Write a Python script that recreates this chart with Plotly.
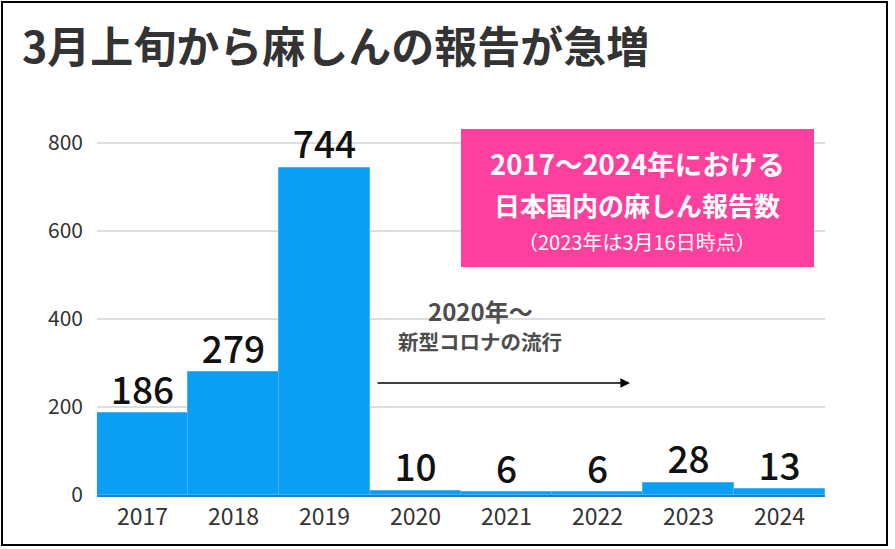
import plotly.graph_objects as go

years = ["2017", "2018", "2019", "2020", "2021", "2022", "2023", "2024"]
cases = [186, 279, 744, 10, 6, 6, 28, 13]
y_ticks = [0, 200, 400, 600, 800]

title_text = "3月上旬から麻しんの報告が急増"
box_line1 = "2017〜2024年における"
box_line2 = "日本国内の麻しん報告数"
box_line3 = "（2023年は3月16日時点）"
note_line1 = "2020年〜"
note_line2 = "新型コロナの流行"

FONT = "Noto Sans CJK JP"
W, H = 895, 549
L, R, T, B = 97, 70, 125, 54
PW, PH = W - L - R, H - T - B


def px(x):
    return (x - L) / PW


def py(y):
    return (H - B - y) / PH


fig = go.Figure()
fig.add_trace(go.Bar(
    x=years, y=cases,
    marker=dict(color="#0a9ef5", line=dict(color="#45b4f6", width=1)),
    width=1.0,
    hoverinfo="x+y",
))
fig.add_trace(go.Scatter(
    x=years, y=cases, mode="text",
    text=[str(v) for v in cases],
    textposition="top center",
    textfont=dict(family=FONT, size=37, color="#111111", weight=500),
    cliponaxis=False, hoverinfo="skip",
))

fig.update_layout(
    width=W, height=H,
    margin=dict(l=L, r=R, t=T, b=B),
    paper_bgcolor="white", plot_bgcolor="white",
    showlegend=False,
    bargap=0,
    font=dict(family=FONT, color="#333333"),
    xaxis=dict(
        type="category", showgrid=False, ticks="",
        tickfont=dict(family=FONT, size=23, color="#333333"),
        ticklabelstandoff=1,
        showline=True, linecolor="#1d7fc4", linewidth=1.5,
        range=[-0.5, 7.5],
    ),
    yaxis=dict(
        range=[0, 841], tickvals=y_ticks,
        showgrid=True, gridcolor="#dddddd", gridwidth=1.5,
        zeroline=False, ticks="",
        tickfont=dict(family=FONT, size=21, color="#333333"),
        ticklabelstandoff=13,
    ),
)

shapes = [
    dict(type="rect", xref="paper", yref="paper",
         x0=px(2), x1=px(887), y0=py(545), y1=py(2),
         line=dict(color="black", width=2), fillcolor="rgba(0,0,0,0)", layer="above"),
    dict(type="rect", xref="paper", yref="paper",
         x0=px(461), x1=px(814), y0=py(267), y1=py(129),
         line=dict(width=0), fillcolor="#fd409d", layer="above"),
]
fig.update_layout(shapes=shapes)

anns = [
    dict(text=title_text, xref="paper", yref="paper", x=px(20), y=py(44),
         xanchor="left", yanchor="middle", showarrow=False,
         font=dict(family=FONT, size=43, color="#333333", weight="bold")),
    dict(text=box_line1, xref="paper", yref="paper", x=px(637), y=py(163),
         xanchor="center", yanchor="middle", showarrow=False,
         font=dict(family=FONT, size=27.5, color="white", weight="bold")),
    dict(text=box_line2, xref="paper", yref="paper", x=px(637), y=py(204),
         xanchor="center", yanchor="middle", showarrow=False,
         font=dict(family=FONT, size=26, color="white", weight="bold")),
    dict(text=box_line3, xref="paper", yref="paper", x=px(637), y=py(241),
         xanchor="center", yanchor="middle", showarrow=False,
         font=dict(family=FONT, size=20, color="white")),
    dict(text=note_line1, xref="paper", yref="paper", x=px(480), y=py(310),
         xanchor="center", yanchor="middle", showarrow=False,
         font=dict(family=FONT, size=24, color="#4d4d4d", weight=600)),
    dict(text=note_line2, xref="paper", yref="paper", x=px(480), y=py(341),
         xanchor="center", yanchor="middle", showarrow=False,
         font=dict(family=FONT, size=20.5, color="#4d4d4d", weight=600)),
    dict(text="", xref="paper", yref="paper", x=px(630), y=py(383),
         axref="pixel", ayref="pixel", ax=-(630 - 376), ay=0,
         showarrow=True, arrowhead=2, arrowsize=1.2, arrowwidth=1.6, arrowcolor="black"),
]
fig.update_layout(annotations=anns)

fig.write_html("out.html", config={"displayModeBar": False},
               post_script="document.body.style.margin='0';")
